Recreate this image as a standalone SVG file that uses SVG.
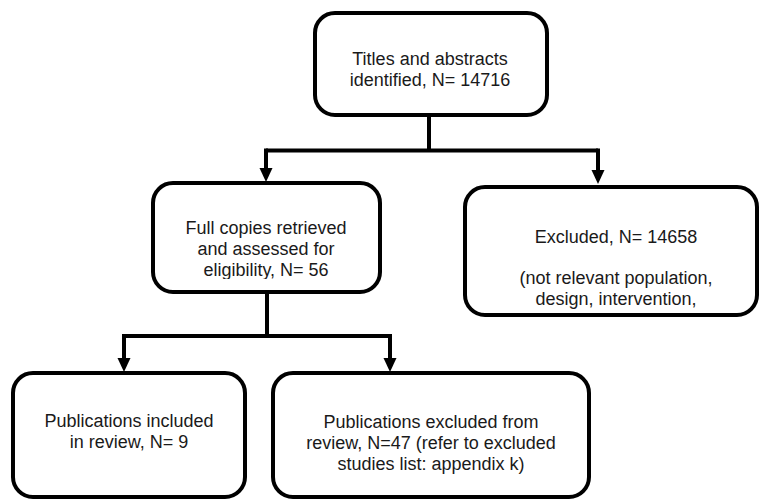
<svg xmlns="http://www.w3.org/2000/svg" width="759" height="500" viewBox="0 0 759 500">
<style>
.box{fill:#fff;stroke:#000;stroke-width:4}
.lbl{font-family:"Liberation Sans",Arial,sans-serif;font-size:18px;fill:#1a1a1a;text-anchor:middle}
.con{fill:none;stroke:#000;stroke-width:4;stroke-linejoin:miter}
</style>
<defs>
<marker id="ah" markerUnits="userSpaceOnUse" markerWidth="14" markerHeight="14" viewBox="0 0 14 14" refX="3" refY="7" orient="auto">
<path d="M0,0.5 L14,7 L0,13.5 z" fill="#000"/>
</marker>
<clipPath id="clipMid"><rect x="150" y="180" width="232" height="99"/></clipPath>
</defs>
<rect width="759" height="500" fill="#fff"/>
<g id="connectors">
<path class="con" d="M429,115 V150.5 M266,150.5 H598"/>
<path class="con" d="M266,148.5 V171" marker-end="url(#ah)"/>
<path class="con" d="M598,148.5 V173" marker-end="url(#ah)"/>
<path class="con" d="M267,292 V336 M124,336 H390"/>
<path class="con" d="M124,334 V361" marker-end="url(#ah)"/>
<path class="con" d="M390,334 V361" marker-end="url(#ah)"/>
</g>
<g id="n1">
<rect class="box" x="315" y="13" width="232" height="102" rx="20"/>
<text class="lbl"><tspan x="430" y="65">Titles and abstracts</tspan><tspan x="430" y="86">identified, N= 14716</tspan></text>
</g>
<g id="n2">
<rect class="box" x="153" y="183" width="227" height="109" rx="20"/>
<text class="lbl" clip-path="url(#clipMid)"><tspan x="266" y="234">Full copies retrieved</tspan><tspan x="266" y="255">and assessed for</tspan><tspan x="266" y="276">eligibility, N= 56</tspan></text>
</g>
<g id="n3">
<rect class="box" x="465" y="187" width="292" height="128" rx="20"/>
<text class="lbl"><tspan x="616" y="243">Excluded, N= 14658</tspan><tspan x="616" y="284">(not relevant population,</tspan><tspan x="616" y="305">design, intervention,</tspan></text>
</g>
<g id="n4">
<rect class="box" x="13" y="373" width="232" height="124" rx="20"/>
<text class="lbl"><tspan x="129" y="427">Publications included</tspan><tspan x="129" y="448">in review, N= 9</tspan></text>
</g>
<g id="n5">
<rect class="box" x="273" y="373" width="316" height="124" rx="20"/>
<text class="lbl"><tspan x="431" y="428">Publications excluded from</tspan><tspan x="431" y="449">review, N=47 (refer to excluded</tspan><tspan x="431" y="470">studies list: appendix k)</tspan></text>
</g>
</svg>
